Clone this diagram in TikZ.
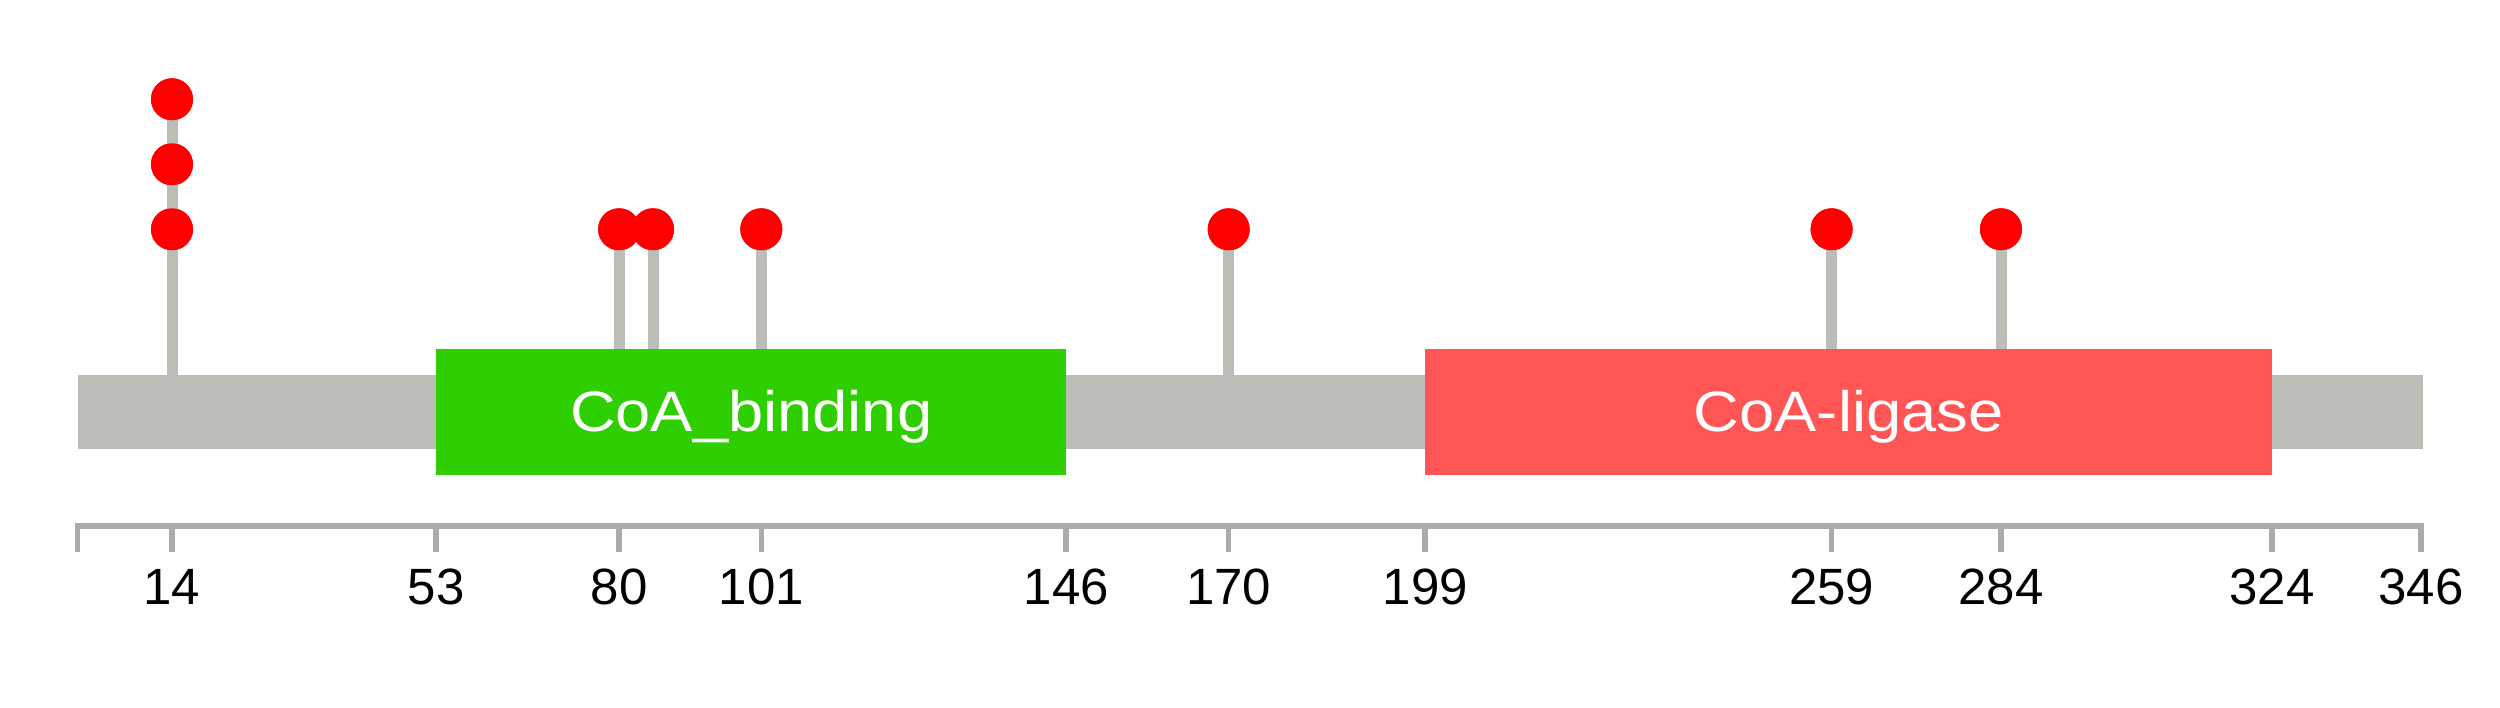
\documentclass[tikz,border=0pt]{standalone}
\usepackage{fontspec}
\setmainfont{Liberation Sans}
\newfontfamily\domfont[FakeStretch=1.11]{Liberation Sans}
\definecolor{bargray}{HTML}{BBBEB6}
\definecolor{axisgray}{HTML}{ABABAB}
\definecolor{domgreen}{HTML}{2ECE00}
\definecolor{domred}{HTML}{FF5555}
\definecolor{mutred}{HTML}{FF0000}
\begin{document}
\begin{tikzpicture}[x=1pt,y=-1pt,
  stemline/.style={draw=bargray,line width=11pt},
  mut/.style={circle,fill=mutred,draw=none,minimum size=42pt,inner sep=0pt},
  dombox/.style={draw=none,inner sep=0pt,minimum height=125.7pt,anchor=north west},
  domlabel/.style={anchor=base,text=white,font=\domfont\fontsize{57}{57}\selectfont},
  axisline/.style={draw=axisgray,line width=5.5pt},
  ticklabel/.style={anchor=base,font=\fontsize{51}{51}\selectfont}]
\useasboundingbox (0,0) rectangle (2500,708);
% backbone
\node[draw=none,fill=bargray,inner sep=0pt,minimum width=2344.7pt,minimum height=73.3pt,anchor=north west] (backbone) at (78,375) {};
% stem bases
\foreach \n/\x in {a/172,b/619.1,c/653.0,d/761.3,e/1228.7,f/1831.6,g/2001.0}
  \coordinate (base\n) at (\x,375);
% mutation positions (circle nodes)
\node[mut] (m14c) at (172,99.3) {};
\node[mut] (m14b) at (172,164.3) {};
\node[mut] (m14a) at (172,229.3) {};
\node[mut] (m80) at (619.1,229.3) {};
\node[mut] (m85) at (653.0,229.3) {};
\node[mut] (m101) at (761.3,229.3) {};
\node[mut] (m170) at (1228.7,229.3) {};
\node[mut] (m259) at (1831.6,229.3) {};
\node[mut] (m284) at (2001.0,229.3) {};
% stems
\draw[stemline] (basea) -- (m14c.center);
\draw[stemline] (baseb) -- (m80.center);
\draw[stemline] (basec) -- (m85.center);
\draw[stemline] (based) -- (m101.center);
\draw[stemline] (basee) -- (m170.center);
\draw[stemline] (basef) -- (m259.center);
\draw[stemline] (baseg) -- (m284.center);
% domains
\node[dombox,fill=domgreen,minimum width=630pt] (dom1) at (436.2,349) {};
\node[dombox,fill=domred,minimum width=846.8pt] (dom2) at (1425.2,349) {};
\node[domlabel] (lab1) at (751.2,431.7) {CoA\_binding};
\node[domlabel] (lab2) at (1848.6,431.7) {CoA-ligase};
% circles on top of stems
\foreach \m in {m14c,m14b,m14a,m80,m85,m101,m170,m259,m284}
  \fill[mutred] (\m.center) circle (21pt);
% axis
\coordinate (axL) at (77.5,552);
\coordinate (axLt) at (77.5,526);
\coordinate (axR) at (2421,552);
\coordinate (axRt) at (2421,526);
\draw[axisline,line join=miter] (axL) -- (axLt) -- (axRt) -- (axR);
\foreach \x in {172,436.2,619.1,761.3,1066.2,1228.7,1425.2,1831.6,2001.0,2272.0}
  \draw[axisline] (\x,526) -- (\x,552);
\foreach \x/\t in {172/14,436.2/53,619.1/80,761.3/101,1066.2/146,1228.7/170,1425.2/199,1831.6/259,2001.0/284,2272.0/324,2421/346}
  \node[ticklabel] (t\t) at (\x,604) {\t};
\end{tikzpicture}
\end{document}
